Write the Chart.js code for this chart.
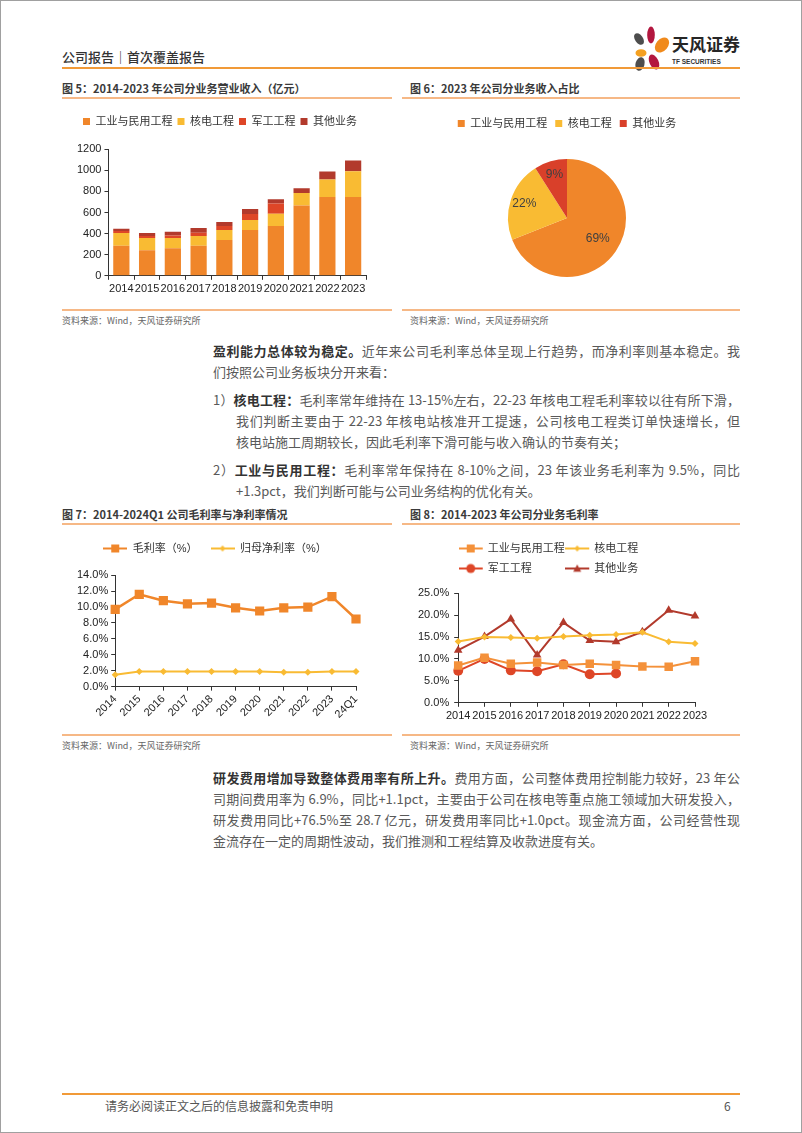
<!DOCTYPE html>
<html>
<head>
<meta charset="utf-8">
<script src="https://cdn.jsdelivr.net/npm/chart.js@4.4.0/dist/chart.umd.min.js"></script>
<style>
body { margin: 0; width: 802px; height: 1133px; position: relative; background: #fff; overflow: hidden;
  font-family: 'Noto Sans CJK SC', sans-serif; color: #595959; }
.abs { position: absolute; }
.frame { left: 0; top: 0; width: 800px; height: 1131px; border: 1px solid #a0a0a0; }
.hdr { left: 62px; top: 48px; font-size: 13px; line-height: 18px; color: #333; font-weight: 500; }
.hline { left: 62px; top: 67px; width: 678px; height: 2px; background: #f19a38; }
.ctitle { font-size: 11px; line-height: 14px; font-weight: 700; color: #3a3a3a; }
.tline { height: 2px; background: #f6b886; }
.src { font-size: 9px; line-height: 12px; color: #666; }
.ln { font-size: 13px; line-height: 21px; color: #595959; text-align: justify; text-align-last: justify; }
.last { text-align-last: left; }
.ln b { color: #333; }
canvas { position: absolute; }
</style>
</head>
<body>
<div class="abs frame"></div>

<div class="abs hdr">公司报告｜首次覆盖报告</div>
<svg class="abs" style="left:628px;top:26px" width="44" height="46">
  <ellipse cx="11" cy="13" rx="4" ry="6.5" fill="#4d4d4d" transform="rotate(-35 11 13)"/>
  <ellipse cx="23" cy="9" rx="3.8" ry="8.5" fill="#b3173f"/>
  <ellipse cx="34" cy="19" rx="6" ry="8.5" fill="#f08a1c" transform="rotate(40 34 19)"/>
  <ellipse cx="13" cy="27" rx="5.5" ry="3.8" fill="#f4a020"/>
  <ellipse cx="12" cy="38" rx="4.5" ry="7" fill="#4d4d4d" transform="rotate(15 12 38)"/>
  <ellipse cx="26" cy="36" rx="4.5" ry="8" fill="#b3173f" transform="rotate(-25 26 36)"/>
</svg>
<div class="abs" style="left:672px;top:34px;font-size:17px;line-height:20px;font-weight:700;color:#262626">天风证券</div>
<div class="abs" style="left:672px;top:58px;font-size:6.5px;line-height:8px;font-weight:700;color:#333;font-family:'Liberation Sans',sans-serif">TF SECURITIES</div>
<div class="abs hline"></div>

<!-- figure 5 / 6 -->
<div class="abs ctitle" style="left:62px;top:81px">图 5：2014-2023 年公司分业务营业收入（亿元）</div>
<div class="abs ctitle" style="left:410px;top:81px">图 6：2023 年公司分业务收入占比</div>
<div class="abs tline" style="left:62px;top:97px;width:330px"></div>
<div class="abs tline" style="left:402px;top:97px;width:338px"></div>
<canvas id="c5" width="330" height="205" style="left:62px;top:100px"></canvas>
<canvas id="c6" width="338" height="205" style="left:402px;top:100px"></canvas>
<div class="abs tline" style="left:62px;top:309px;width:330px;height:1.5px"></div>
<div class="abs tline" style="left:402px;top:309px;width:338px;height:1.5px"></div>
<div class="abs src" style="left:62px;top:315px">资料来源：Wind，天风证券研究所</div>
<div class="abs src" style="left:410px;top:315px">资料来源：Wind，天风证券研究所</div>

<!-- text block 1 -->
<div class="abs ln" style="left:213px;top:340px;width:527px"><b>盈利能力总体较为稳定。</b>近年来公司毛利率总体呈现上行趋势，而净利率则基本稳定。我</div>
<div class="abs ln last" style="left:213px;top:361px;width:527px">们按照公司业务板块分开来看：</div>
<div class="abs ln" style="left:213px;top:389px;width:527px">1）<b>核电工程：</b>毛利率常年维持在 13-15%左右，22-23 年核电工程毛利率较以往有所下滑，</div>
<div class="abs ln" style="left:236px;top:410px;width:504px">我们判断主要由于 22-23 年核电站核准开工提速，公司核电工程类订单快速增长，但</div>
<div class="abs ln last" style="left:236px;top:431px;width:504px">核电站施工周期较长，因此毛利率下滑可能与收入确认的节奏有关；</div>
<div class="abs ln" style="left:213px;top:459px;width:527px">2）<b>工业与民用工程：</b>毛利率常年保持在 8-10%之间，23 年该业务毛利率为 9.5%，同比</div>
<div class="abs ln last" style="left:236px;top:480px;width:504px">+1.3pct，我们判断可能与公司业务结构的优化有关。</div>

<!-- figure 7 / 8 -->
<div class="abs ctitle" style="left:62px;top:507px">图 7：2014-2024Q1 公司毛利率与净利率情况</div>
<div class="abs ctitle" style="left:410px;top:507px">图 8：2014-2023 年公司分业务毛利率</div>
<div class="abs tline" style="left:62px;top:523px;width:330px"></div>
<div class="abs tline" style="left:402px;top:523px;width:338px"></div>
<canvas id="c7" width="330" height="205" style="left:62px;top:526px"></canvas>
<canvas id="c8" width="338" height="205" style="left:402px;top:526px"></canvas>
<div class="abs tline" style="left:62px;top:734px;width:330px;height:1.5px"></div>
<div class="abs tline" style="left:402px;top:734px;width:338px;height:1.5px"></div>
<div class="abs src" style="left:62px;top:740px">资料来源：Wind，天风证券研究所</div>
<div class="abs src" style="left:410px;top:740px">资料来源：Wind，天风证券研究所</div>

<!-- text block 2 -->
<div class="abs ln" style="left:213px;top:767px;width:527px"><b>研发费用增加导致整体费用率有所上升。</b>费用方面，公司整体费用控制能力较好，23 年公</div>
<div class="abs ln" style="left:213px;top:788px;width:527px">司期间费用率为 6.9%，同比+1.1pct，主要由于公司在核电等重点施工领域加大研发投入，</div>
<div class="abs ln" style="left:213px;top:809px;width:527px">研发费用同比+76.5%至 28.7 亿元，研发费用率同比+1.0pct。现金流方面，公司经营性现</div>
<div class="abs ln last" style="left:213px;top:830px;width:527px">金流存在一定的周期性波动，我们推测和工程结算及收款进度有关。</div>

<!-- footer -->
<div class="abs" style="left:62px;top:1093px;width:678px;height:2px;background:#f19a38"></div>
<div class="abs" style="left:105px;top:1098px;font-size:12px;line-height:16px;color:#555">请务必阅读正文之后的信息披露和免责申明</div>
<div class="abs" style="left:724px;top:1098px;font-size:12px;line-height:16px;color:#555">6</div>

<script>
// 图5 分业务营业收入（亿元）
const years = ['2014', '2015', '2016', '2017', '2018', '2019', '2020', '2021', '2022', '2023'];
const segNames = ['工业与民用工程', '核电工程', '军工工程', '其他业务'];
const revIndustrial = [284, 243, 262, 284, 340, 433, 471, 667, 748, 748];
const revNuclear = [121, 115, 96, 93, 93, 97, 118, 118, 165, 243];
const revMilitary = [20, 20, 25, 30, 40, 56, 97, 0, 0, 0];
const revOther = [21, 27, 35, 45, 38, 47, 40, 44, 75, 103];

// 图6 2023年收入占比
const pieNames = ['工业与民用工程', '核电工程', '其他业务'];
const pieShares = [69, 22, 9];

// 图7 毛利率与净利率
const periods = ['2014', '2015', '2016', '2017', '2018', '2019', '2020', '2021', '2022', '2023', '24Q1'];
const grossMargin = [9.7, 11.6, 10.8, 10.4, 10.5, 9.9, 9.5, 9.9, 10.0, 11.3, 8.5];
const netMargin = [1.5, 1.9, 1.9, 1.9, 1.9, 1.9, 1.9, 1.8, 1.8, 1.9, 1.9];

// 图8 分业务毛利率
const mIndustrial = [8.5, 10.3, 8.9, 9.2, 8.6, 8.9, 8.6, 8.3, 8.2, 9.5];
const mNuclear = [14.0, 15.0, 14.9, 14.7, 15.1, 15.4, 15.6, 16.1, 13.9, 13.5];
const mMilitary = [7.3, 10.0, 7.4, 7.2, 8.8, 6.5, 6.7, null, null, null];
const mOther = [12.0, 15.1, 19.1, 10.9, 18.3, 14.2, 13.9, 16.2, 21.1, 19.8];

const ORANGE = '#f0862a', YELLOW = '#f9bb33', RED = '#de4627', DARKRED = '#b23a2c';

Chart.defaults.font.family = "'Liberation Sans', 'Noto Sans CJK SC', sans-serif";
Chart.defaults.font.size = 11;
Chart.defaults.color = '#222';
Chart.defaults.animation = false;
Chart.defaults.responsive = false;
Chart.defaults.devicePixelRatio = 1;
Chart.defaults.plugins.tooltip.enabled = false;

function yAxis(min, max, step, fmt, pad) {
  return {
    min: min, max: max,
    ticks: { stepSize: step, callback: fmt, padding: pad || 3, autoSkip: false },
    grid: { drawOnChartArea: false, tickLength: 4, color: '#333' },
    border: { color: '#333' }
  };
}

function xAxis(extra) {
  return Object.assign({
    ticks: { autoSkip: false, maxRotation: 0, minRotation: 0, padding: 3 },
    grid: { drawOnChartArea: false, tickLength: 4, color: '#333' },
    border: { color: '#333' }
  }, extra || {});
}

// empty title used as a gap under the legend
function spacer(h, full) {
  return { display: true, text: '', weight: 500, fullSize: full, font: { size: 1 }, padding: { top: h, bottom: 0 } };
}

// legend icon: line with marker
function lineIcon(color, marker, size, width, lineLen) {
  const c = document.createElement('canvas');
  c.width = width; c.height = 14;
  const g = c.getContext('2d');
  g.strokeStyle = color; g.fillStyle = color; g.lineWidth = 2;
  g.beginPath(); g.moveTo(0, 7); g.lineTo(lineLen, 7); g.stroke();
  const cx = lineLen / 2, cy = 7;
  g.beginPath();
  if (marker == 'rect') g.rect(cx - size, cy - size, size * 2, size * 2);
  if (marker == 'diamond') { g.moveTo(cx, cy - size); g.lineTo(cx + size, cy); g.lineTo(cx, cy + size); g.lineTo(cx - size, cy); g.closePath(); }
  if (marker == 'circle') g.arc(cx, cy, size, 0, Math.PI * 2);
  if (marker == 'triangle') { g.moveTo(cx, cy - size); g.lineTo(cx + size, cy + size * 0.8); g.lineTo(cx - size, cy + size * 0.8); g.closePath(); }
  g.fill();
  return c;
}

// 图5
new Chart(document.getElementById('c5'), {
  type: 'bar',
  data: {
    labels: years,
    datasets: [
      { label: segNames[0], data: revIndustrial, backgroundColor: ORANGE },
      { label: segNames[1], data: revNuclear, backgroundColor: YELLOW },
      { label: segNames[2], data: revMilitary, backgroundColor: RED },
      { label: segNames[3], data: revOther, backgroundColor: DARKRED }
    ]
  },
  options: {
    layout: { padding: { top: 11, left: 12, right: 26, bottom: 6 } },
    datasets: { bar: { categoryPercentage: 1, barPercentage: 0.63, borderWidth: 0 } },
    plugins: {
      legend: { labels: { boxWidth: 7, boxHeight: 7, padding: 5, color: '#333' } },
      title: spacer(11, true)
    },
    scales: {
      x: xAxis({ stacked: true }),
      y: Object.assign(yAxis(0, 1200, 200), { stacked: true })
    }
  }
});

// 图6 pie labels
const pieLabels = {
  id: 'pieLabels',
  afterDatasetsDraw(chart) {
    const ctx = chart.ctx;
    const meta = chart.getDatasetMeta(0);
    ctx.save();
    ctx.font = "12px 'Liberation Sans', sans-serif";
    ctx.fillStyle = '#404040';
    ctx.textAlign = 'center';
    ctx.textBaseline = 'middle';
    meta.data.forEach((arc, i) => {
      const mid = (arc.startAngle + arc.endAngle) / 2;
      const r = arc.outerRadius * (i == 0 ? 0.63 : 0.76);
      ctx.fillText(pieShares[i] + '%', arc.x + Math.cos(mid) * r, arc.y + Math.sin(mid) * r);
    });
    ctx.restore();
  }
};

new Chart(document.getElementById('c6'), {
  type: 'pie',
  data: {
    labels: pieNames,
    datasets: [{ data: pieShares, backgroundColor: [ORANGE, YELLOW, '#d9402a'], borderWidth: 0, radius: 59 }]
  },
  options: {
    layout: { padding: { top: 10, left: 2, right: 10, bottom: 8 } },
    plugins: {
      legend: { labels: { boxWidth: 7, boxHeight: 7, padding: 8, color: '#333' } }
    }
  },
  plugins: [pieLabels]
});

// 图7
const icons7 = [lineIcon(ORANGE, 'rect', 4, 24, 24), lineIcon(YELLOW, 'diamond', 3, 24, 24)];
const names7 = ['毛利率（%）', '归母净利率（%）'];
new Chart(document.getElementById('c7'), {
  type: 'line',
  data: {
    labels: periods,
    datasets: [
      { label: names7[0], data: grossMargin, borderColor: ORANGE, backgroundColor: ORANGE, borderWidth: 2.5,
        pointStyle: 'rect', pointRadius: 6.5, pointBorderWidth: 0 },
      { label: names7[1], data: netMargin, borderColor: YELLOW, backgroundColor: YELLOW, borderWidth: 2,
        pointStyle: 'rectRot', pointRadius: 3.5, pointBorderWidth: 0 }
    ]
  },
  options: {
    layout: { padding: { top: 4, left: 12, right: 36, bottom: 8 } },
    plugins: {
      legend: {
        labels: {
          usePointStyle: true, pointStyleWidth: 24, padding: 13, color: '#333',
          generateLabels(chart) {
            const items = Chart.defaults.plugins.legend.labels.generateLabels(chart);
            items.forEach((it, i) => { it.pointStyle = icons7[i]; });
            return items;
          }
        }
      },
      title: spacer(10, true)
    },
    scales: {
      x: xAxis({ offset: false, ticks: { autoSkip: false, maxRotation: 45, minRotation: 45, padding: 2 } }),
      y: yAxis(0, 14, 2, v => v.toFixed(1) + '%')
    }
  }
});

// 图8
const icons8 = [
  lineIcon('#f4913a', 'rect', 4, 32, 24),
  lineIcon(YELLOW, 'diamond', 3, 32, 24),
  lineIcon(RED, 'circle', 4.5, 32, 24),
  lineIcon(DARKRED, 'triangle', 4, 32, 24)
];
new Chart(document.getElementById('c8'), {
  type: 'line',
  data: {
    labels: years,
    datasets: [
      { label: segNames[0], data: mIndustrial, borderColor: '#f4913a', backgroundColor: '#f4913a', borderWidth: 2,
        pointStyle: 'rect', pointRadius: 6, pointBorderWidth: 0 },
      { label: segNames[1], data: mNuclear, borderColor: YELLOW, backgroundColor: YELLOW, borderWidth: 2,
        pointStyle: 'rectRot', pointRadius: 3.5, pointBorderWidth: 0 },
      { label: segNames[2], data: mMilitary, borderColor: RED, backgroundColor: RED, borderWidth: 2,
        pointStyle: 'circle', pointRadius: 5, pointBorderWidth: 0 },
      { label: segNames[3], data: mOther, borderColor: DARKRED, backgroundColor: DARKRED, borderWidth: 2,
        pointStyle: 'triangle', pointRadius: 5, pointBorderWidth: 0 }
    ]
  },
  options: {
    layout: { padding: { top: 8, left: 11, right: 45, bottom: 5 } },
    plugins: {
      legend: {
        fullSize: false, align: 'start',
        labels: {
          usePointStyle: true, pointStyleWidth: 15, padding: 9, color: '#333',
          generateLabels(chart) {
            const items = Chart.defaults.plugins.legend.labels.generateLabels(chart);
            items.forEach((it, i) => {
              it.pointStyle = icons8[i];
              if (i == 2) it.text = it.text + '\u3000\u3000\u3000';
            });
            return items;
          }
        }
      },
      title: spacer(8, false)
    },
    scales: {
      x: xAxis({ offset: false }),
      y: yAxis(0, 25, 5, v => v.toFixed(1) + '%', 5)
    }
  }
});
</script>
</body>
</html>
